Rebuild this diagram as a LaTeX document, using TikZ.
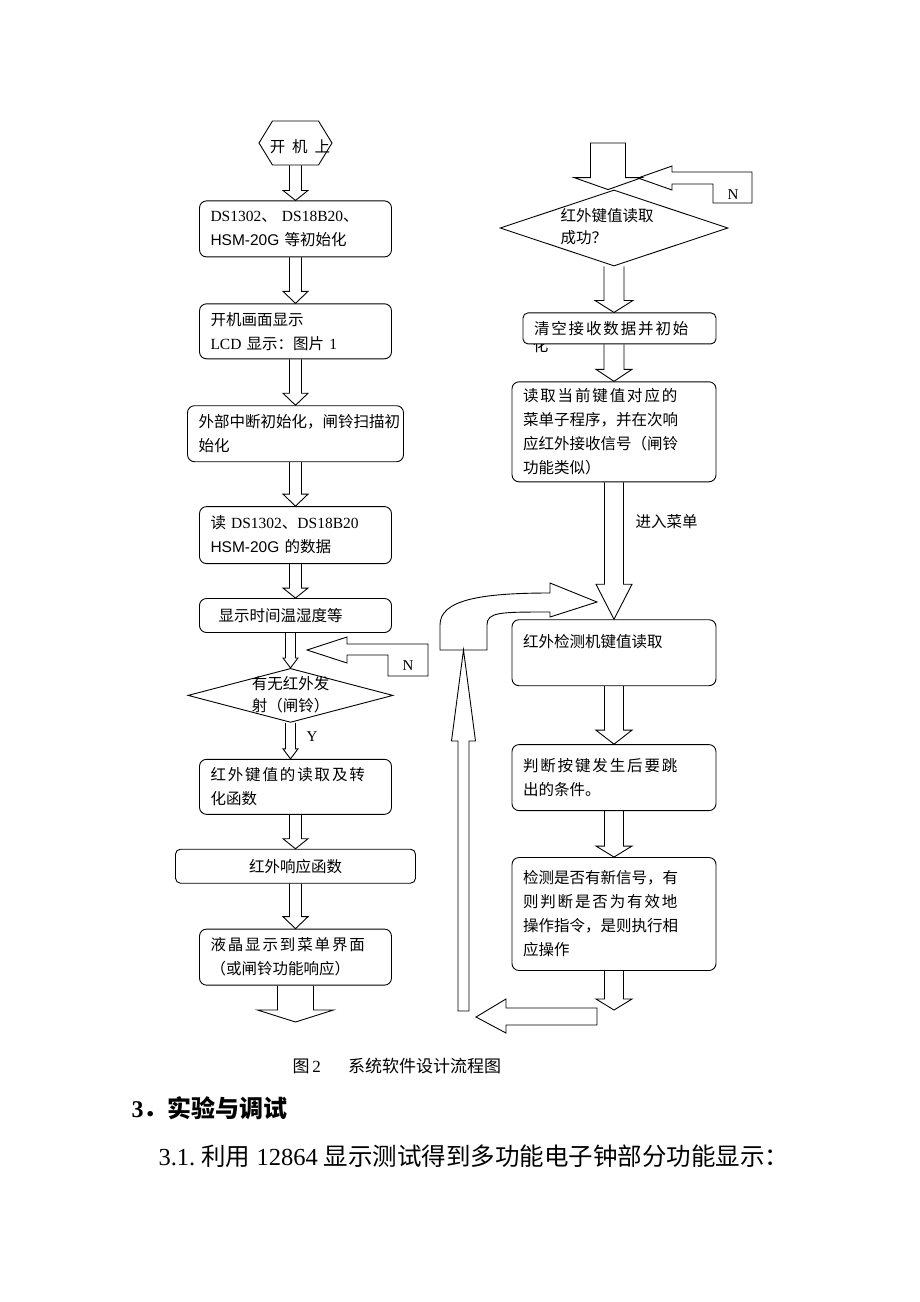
\documentclass[tikz,border=0pt]{standalone}
\usepackage{fontspec}
\setmainfont{Liberation Serif}
\newfontfamily\cjk{Noto Sans CJK SC}
\newfontfamily\arial{Liberation Sans}
\usepackage{tikz}
\usetikzlibrary{positioning,calc,shapes.geometric,shapes.symbols}

\newcommand\latn[1]{{\rmfamily #1}}
\newcommand\sans[1]{{\arial #1}}
\newcommand\wide[1]{{\addfontfeature{LetterSpace=12}#1}}
\newcommand\zbox[2][0pt]{\makebox[0pt]{\hspace*{#1}\smash{\raisebox{-4pt}{\begin{tabular}{@{}l@{}}#2\end{tabular}}}}}
% block arrow, downwards: from, to, half shaft, half head, head length
\newcommand\blk[5]{%
  \draw[conn] let \p1=(#1), \p2=(#2) in
    (\x1-#3,\y1) -- (\x1-#3,\y2+#5) -- (\x1-#4,\y2+#5) -- (\x1,\y2)
    -- (\x1+#4,\y2+#5) -- (\x1+#3,\y2+#5) -- (\x1+#3,\y1);}
% same, with the top of the shaft closed
\newcommand\blkc[5]{%
  \draw[conn] let \p1=(#1), \p2=(#2) in
    (\x1-#3,\y1) -- (\x1-#3,\y2+#5) -- (\x1-#4,\y2+#5) -- (\x1,\y2)
    -- (\x1+#4,\y2+#5) -- (\x1+#3,\y2+#5) -- (\x1+#3,\y1) -- cycle;}
% block arrow, upwards
\newcommand\blkup[5]{%
  \draw[conn] let \p1=(#1), \p2=(#2) in
    (\x1-#3,\y1) -- (\x1-#3,\y2-#5) -- (\x1-#4,\y2-#5) -- (\x1,\y2)
    -- (\x1+#4,\y2-#5) -- (\x1+#3,\y2-#5) -- (\x1+#3,\y1) -- cycle;}

\begin{document}
\begin{tikzpicture}[x=1pt, y=-1pt,
    roundbox/.style={draw, rounded corners=7pt, line width=0.9pt, inner xsep=11pt, inner ysep=0pt,
        align=left, font=\cjk\fontsize{15.5}{24}\selectfont},
    decision/.style={diamond, draw, line width=0.9pt, inner sep=0pt, font=\cjk\fontsize{15.5}{22}\selectfont},
    startnode/.style={signal, signal to=west and east, signal pointer angle=117, draw, line width=0.9pt,
        inner sep=0pt, minimum width=73pt, minimum height=44pt, font=\cjk\fontsize{15.5}{20}\selectfont},
    conn/.style={line width=0.9pt, line join=miter},
    tag/.style={font=\fontsize{15}{18}\selectfont}
    ]
        \path[use as bounding box, fill=white] (0,0) rectangle (920,1302);

        %Nodes - left column
        \node[startnode] (start) at (295.5,143) {\zbox[9pt]{\raisebox{-5pt}{开\ \ 机\ \ 上}}};
        \node[roundbox, minimum width=192pt, text width=170pt, minimum height=56pt, below=35pt of start]
            (init) {\latn{DS1302}、\latn{~DS18B20}、\\\sans{HSM-20G}~等初始化};
        \node[roundbox, minimum width=192pt, text width=170pt, minimum height=55pt, below=46pt of init]
            (logo) {开机画面显示\\\latn{LCD}~显示：图片~\latn{1}};
        \node[roundbox, minimum width=216pt, text width=194pt, minimum height=56pt, below=46pt of logo]
            (extint) {外部中断初始化，闸铃扫描初\\始化};
        \node[roundbox, minimum width=192pt, text width=170pt, minimum height=57pt, below=44pt of extint]
            (readsens) {读~\latn{DS1302}、\latn{DS18B20}\\\sans{HSM-20G}~的数据};
        \node[roundbox, minimum width=192pt, text width=170pt, minimum height=34pt, below=34pt of readsens]
            (show) {\hspace{8pt}显示时间温湿度等};
        \node[decision, minimum width=205pt, minimum height=54pt, below=35pt of show, xshift=-5pt]
            (irq) {\zbox{有无红外发\\射（闸铃）}};
        \node[roundbox, minimum width=192pt, text width=170pt, minimum height=55pt, below=36pt of irq, xshift=5pt]
            (irkey) {\wide{红外键值的读取及转}\\化函数};
        \node[roundbox, rounded corners=5pt, minimum width=240pt, text width=218pt, minimum height=34pt,
            align=center, below=34pt of irkey] (irresp) {红外响应函数};
        \node[roundbox, minimum width=192pt, text width=170pt, minimum height=56pt, below=45pt of irresp]
            (lcd) {\wide{液晶显示到菜单界面}\\（或闸铃功能响应）};

        %Nodes - right column
        \node[decision, minimum width=228pt, minimum height=76pt] (irok) at (614,228)
            {\zbox[-14pt]{红外键值读取\\成功？}};
        \node[roundbox, rounded corners=5pt, minimum width=193pt, text width=171pt, minimum height=31pt,
            below=46pt of irok, xshift=5.5pt] (clear) {\wide{清空接收数据并初始}};
        \begin{scope}
            \clip (clear.south west) rectangle ++(40,14);
            \node[font=\cjk\fontsize{15.5}{20}\selectfont] (clearx) at ($(clear.south west)+(18,1)$) {化};
        \end{scope}
        \node[roundbox, minimum width=204pt, text width=182pt, minimum height=100pt,
            below=37pt of clear, xshift=-5.5pt]
            (menu) {\wide{读取当前键值对应的}\\菜单子程序，并在次响\\应红外接收信号（闸铃\\功能类似）};
        \node[roundbox, minimum width=204pt, text width=182pt, minimum height=66pt, below=137pt of menu]
            (detect) {红外检测机键值读取\\\mbox{}};
        \node[roundbox, minimum width=204pt, text width=182pt, minimum height=66pt, below=58pt of detect]
            (judge) {\wide{判断按键发生后要跳}\\出的条件。};
        \node[roundbox, minimum width=204pt, text width=182pt, minimum height=113pt, below=46pt of judge]
            (check) {检测是否有新信号，有\\\wide{则判断是否为有效地}\\操作指令，是则执行相\\应操作};

        %Labels
        \node[tag] (no1) at (408,666) {N};
        \node[tag] (yes1) at (312,737) {Y};
        \node[tag] (no2) at (733,195) {N};
        \node[font=\cjk\fontsize{15.5}{20}\selectfont, anchor=west] (enter) at (632,522) {进入菜单};

        %Lines - left column
        \blk{start.south}{init.north}{6pt}{12.5pt}{10pt}
        \blk{init.south}{logo.north}{6pt}{12.5pt}{12pt}
        \blk{logo.south}{extint.north}{6pt}{12.5pt}{12pt}
        \blk{extint.south}{readsens.north}{6pt}{12.5pt}{12pt}
        \blk{readsens.south}{show.north}{6pt}{12.5pt}{10pt}
        \blk{show.south -| irq.north}{irq.north}{5pt}{7.5pt}{10pt}
        \blk{irq.south}{irkey.north}{5pt}{7.5pt}{10pt}
        \blk{irkey.south}{irresp.north}{6pt}{12.5pt}{10pt}
        \blk{irresp.south -| lcd.north}{lcd.north}{6pt}{12.5pt}{12pt}
        \coordinate (out1) at (295,1022);
        \blk{lcd.south}{out1}{18pt}{38pt}{12pt}
        \coordinate (back1) at (307,650);
        \draw[conn, shift={(back1)}] (0,0) -- (40,-13) -- (40,-6) -- (121,-6) -- (121,26)
            -- (81,26) -- (81,5) -- (40,5) -- (40,13) -- cycle;

        %Lines - right column
        \coordinate (in2) at (608,143);
        \blkc{in2}{irok.north}{17.5pt}{34pt}{12pt}
        \coordinate (back2) at (638,178);
        \draw[conn, shift={(back2)}] (0,0) -- (34,-12) -- (34,-6) -- (114,-6) -- (114,25)
            -- (75,25) -- (75,6) -- (34,6) -- (34,12) -- cycle;
        \blk{irok.south}{clear.north -| irok.south}{10pt}{19pt}{12pt}
        \blk{clear.south -| menu.north}{menu.north}{10pt}{18pt}{12pt}
        \blk{menu.south}{detect.north}{9.5pt}{18pt}{35pt}
        \blk{detect.south}{judge.north}{9.5pt}{18pt}{14pt}
        \blk{judge.south}{check.north}{9.5pt}{18pt}{11pt}
        \coordinate (out2) at (614,1010);
        \blk{check.south}{out2}{9.5pt}{18pt}{11pt}
        \coordinate (ret) at (476,1017);
        \draw[conn, shift={(ret)}] (0,0) -- (30,-18) -- (30,-9) -- (121,-9) -- (121,8)
            -- (30,8) -- (30,16) -- cycle;
        \coordinate (up0) at (463.5,1011);
        \coordinate (loop) at (463.5,650);
        \blkup{up0}{loop}{5.5pt}{12pt}{91pt}
        \draw[conn] (440,650) -- (440,625) .. controls (440,600) and (480,593) .. (550,593)
            -- (550,583) -- (597,602) -- (550,617) -- (550,612)
            .. controls (500,612) and (487,612) .. (487,625) -- (487,650) -- cycle;

        %Text below the chart
        \node[font=\fontsize{17}{20}\selectfont, anchor=west] (cap) at (289,1066)
            {{\cjk 图}\,2\hspace{1.6em}{\cjk 系统软件设计流程图}};
        \node[font=\fontsize{24}{28}\selectfont\bfseries, anchor=west] (sec) at (128,1108)
            {3{\cjk\bfseries ．实验与调试}};
        \node[font=\fontsize{24.5}{28}\selectfont, anchor=west] (para) at (155,1156)
            {3.1.~{\cjk 利用}~12864~{\cjk 显示测试得到多功能电子钟部分功能显示：}};
    \end{tikzpicture}
\end{document}
